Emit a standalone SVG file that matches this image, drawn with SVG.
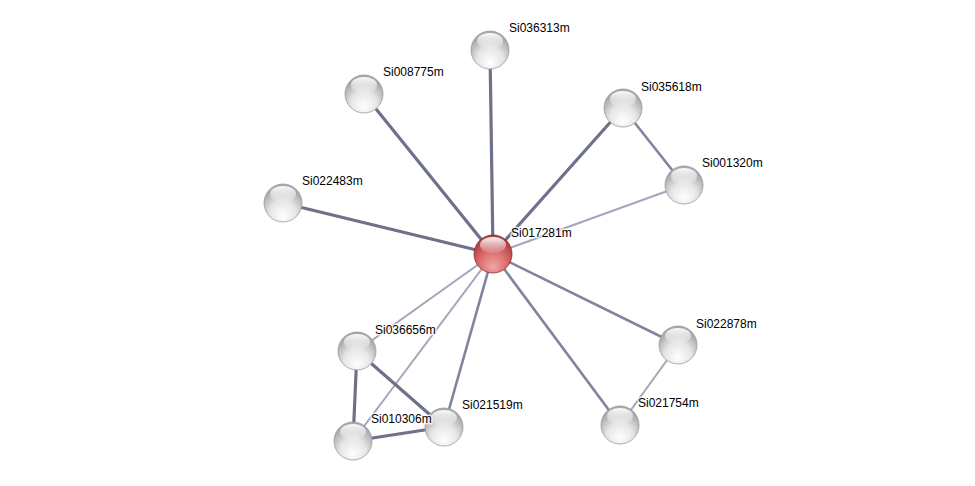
<svg xmlns="http://www.w3.org/2000/svg" width="975" height="486" viewBox="0 0 975 486">
<style>
.e{fill:none;stroke-linecap:butt}
.e1{stroke:#6d7189;stroke-width:3.2}
.e2{stroke:#80849c;stroke-width:2.6}
.e3{stroke:#a3a6ba;stroke-width:2}
.b{fill:url(#g);stroke:#9a9a9a;stroke-width:0.8}
.br{fill:url(#gr);stroke:#8a2a2a;stroke-width:0.8}
.h{fill:url(#hl)}
text{font-family:"Liberation Sans",Arial,sans-serif;font-size:12px;fill:#000;stroke:#fff;stroke-width:3;stroke-opacity:0.75;paint-order:stroke;stroke-linejoin:round}
</style>
<defs>
<radialGradient id="g" cx="0.5" cy="0.72" r="0.62" fx="0.5" fy="0.85">
<stop offset="0" stop-color="#ffffff"/>
<stop offset="0.55" stop-color="#e6e6e6"/>
<stop offset="1" stop-color="#a8a8a8"/>
</radialGradient>
<radialGradient id="gr" cx="0.5" cy="0.72" r="0.62" fx="0.5" fy="0.85">
<stop offset="0" stop-color="#f2a5a5"/>
<stop offset="0.55" stop-color="#dc7070"/>
<stop offset="1" stop-color="#b04040"/>
</radialGradient>
<linearGradient id="hl" x1="0" y1="0" x2="0" y2="1">
<stop offset="0" stop-color="#fff" stop-opacity="0.95"/>
<stop offset="1" stop-color="#fff" stop-opacity="0.1"/>
</linearGradient>
</defs>
<g id="edges">
<line class="e e1" x1="493" y1="254" x2="490" y2="50"/>
<line class="e e1" x1="493" y1="254" x2="364" y2="94"/>
<line class="e e1" x1="493" y1="254" x2="283" y2="203"/>
<line class="e e1" x1="493" y1="254" x2="623" y2="108"/>
<line class="e e3" x1="493" y1="254" x2="684" y2="185"/>
<line class="e e2" x1="623" y1="108" x2="684" y2="185"/>
<line class="e e2" x1="493" y1="254" x2="678" y2="345"/>
<line class="e e2" x1="493" y1="254" x2="620" y2="425"/>
<line class="e e3" x1="678" y1="345" x2="620" y2="425"/>
<line class="e e2" x1="493" y1="254" x2="444" y2="427"/>
<line class="e e3" x1="493" y1="254" x2="357" y2="351"/>
<line class="e e3" x1="493" y1="254" x2="353" y2="441"/>
<line class="e e1" x1="357" y1="351" x2="353" y2="441"/>
<line class="e e1" x1="357" y1="351" x2="444" y2="427"/>
<line class="e e1" x1="353" y1="441" x2="444" y2="427"/>
</g>
<g id="Si036313m"><circle class="b" cx="490" cy="50" r="19"/><ellipse class="h" cx="490" cy="41" rx="13" ry="8"/><text x="509" y="32">Si036313m</text></g>
<g id="Si008775m"><circle class="b" cx="364" cy="94" r="19"/><ellipse class="h" cx="364" cy="85" rx="13" ry="8"/><text x="383" y="76">Si008775m</text></g>
<g id="Si022483m"><circle class="b" cx="283" cy="203" r="19"/><ellipse class="h" cx="283" cy="194" rx="13" ry="8"/><text x="302" y="185">Si022483m</text></g>
<g id="Si035618m"><circle class="b" cx="623" cy="108" r="19"/><ellipse class="h" cx="623" cy="99" rx="13" ry="8"/><text x="641" y="91">Si035618m</text></g>
<g id="Si001320m"><circle class="b" cx="684" cy="185" r="19"/><ellipse class="h" cx="684" cy="176" rx="13" ry="8"/><text x="702" y="167">Si001320m</text></g>
<g id="Si022878m"><circle class="b" cx="678" cy="345" r="19"/><ellipse class="h" cx="678" cy="336" rx="13" ry="8"/><text x="696" y="328">Si022878m</text></g>
<g id="Si021754m"><circle class="b" cx="620" cy="425" r="19"/><ellipse class="h" cx="620" cy="416" rx="13" ry="8"/><text x="638" y="407">Si021754m</text></g>
<g id="Si021519m"><circle class="b" cx="444" cy="427" r="19"/><ellipse class="h" cx="444" cy="418" rx="13" ry="8"/><text x="462" y="409">Si021519m</text></g>
<g id="Si010306m"><circle class="b" cx="353" cy="441" r="19"/><ellipse class="h" cx="353" cy="432" rx="13" ry="8"/><text x="371" y="423">Si010306m</text></g>
<g id="Si036656m"><circle class="b" cx="357" cy="351" r="19"/><ellipse class="h" cx="357" cy="342" rx="13" ry="8"/><text x="375" y="334">Si036656m</text></g>
<g id="Si017281m"><circle class="br" cx="493" cy="254" r="19"/><ellipse class="h" cx="493" cy="245" rx="13" ry="8"/><text x="511" y="237">Si017281m</text></g>
</svg>
